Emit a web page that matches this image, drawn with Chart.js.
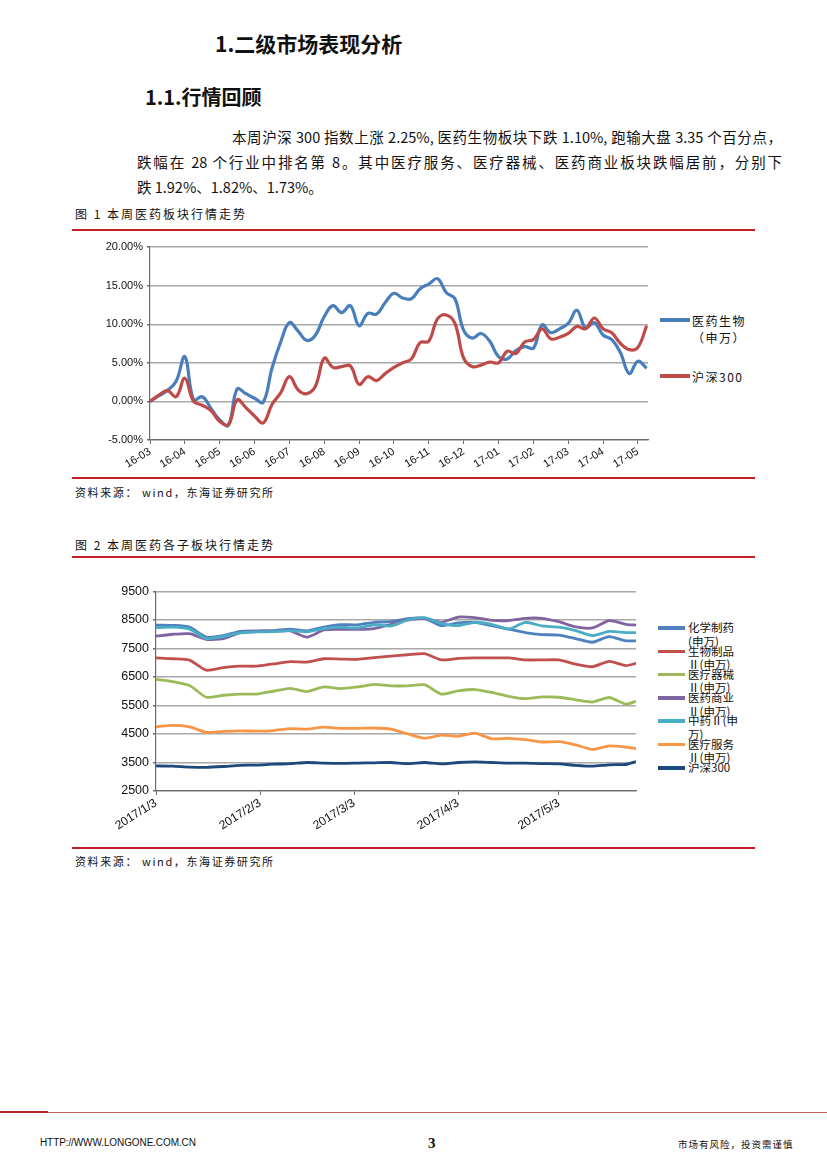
<!DOCTYPE html>
<html>
<head>
<meta charset="utf-8">
<script src="https://cdn.jsdelivr.net/npm/chart.js@4.4.1/dist/chart.umd.min.js"></script>
<style>
  body { margin: 0; background: #fff; }
  #page { position: relative; width: 827px; height: 1170px; overflow: hidden; background: #fff;
          font-family: "Noto Sans CJK SC", sans-serif; color: #111; }
  .abs { position: absolute; white-space: nowrap; }
  .h1 { left: 215px; top: 28px; font-size: 21px; line-height: 30px; font-weight: bold; }
  .h2 { left: 145px; top: 83px; font-size: 20px; line-height: 28px; font-weight: bold; }
  .para { font-size: 14.5px; line-height: 20px; text-align: justify; text-align-last: justify; }
  .caption { left: 75px; font-size: 12px; line-height: 16px; letter-spacing: 2px; }
  .source { left: 75px; font-size: 11px; line-height: 15px; letter-spacing: 1.6px; }
  .rule { position: absolute; left: 72px; width: 683px; height: 2px; background: #c62026; }
  .legend-item { position: absolute; }
  .legend-item .swatch { position: absolute; left: 0; }
  .legend-item .txt { position: absolute; white-space: normal; }
  canvas { position: absolute; }
</style>
</head>
<body>
<div id="page">
  <div class="abs h1">1.二级市场表现分析</div>
  <div class="abs h2">1.1.行情回顾</div>

  <div class="abs para" style="left:232px; top:127px; width:550px;">本周沪深 300 指数上涨 2.25%, 医药生物板块下跌 1.10%, 跑输大盘 3.35 个百分点，</div>
  <div class="abs para" style="left:137px; top:152px; width:645px;">跌幅在 28 个行业中排名第 8。其中医疗服务、医疗器械、医药商业板块跌幅居前，分别下</div>
  <div class="abs" style="left:137px; top:177px; font-size:14.5px; line-height:20px;">跌 1.92%、1.82%、1.73%。</div>

  <div class="abs caption" style="top:206px;">图 1 本周医药板块行情走势</div>
  <div class="rule" style="top:229px;"></div>
  <canvas id="chart1" width="590" height="240" style="left:70px; top:236px;"></canvas>
  <div id="legend1"></div>
  <div class="rule" style="top:477px;"></div>
  <div class="abs source" style="top:485px;">资料来源： wind，东海证券研究所</div>

  <div class="abs caption" style="top:537px;">图 2 本周医药各子板块行情走势</div>
  <div class="rule" style="top:556px;"></div>
  <canvas id="chart2" width="575" height="262" style="left:70px; top:580px;"></canvas>
  <div id="legend2"></div>
  <div class="rule" style="top:847px;"></div>
  <div class="abs source" style="top:854px;">资料来源： wind，东海证券研究所</div>

  <div style="position:absolute; left:0; top:1112px; width:827px; height:1px; background:#c8605c;"></div>
  <div style="position:absolute; left:0; top:1111px; width:48px; height:2px; background:#b22a25;"></div>
  <div class="abs" style="left:40px; top:1136px; font-family:'Liberation Sans',sans-serif; font-size:10px; line-height:14px; letter-spacing:-0.1px;">HTTP://WWW.LONGONE.COM.CN</div>
  <div class="abs" style="left:428px; top:1134px; font-family:'Liberation Serif',serif; font-weight:bold; font-size:15px; line-height:18px;">3</div>
  <div class="abs" style="left:678px; top:1137px; font-size:9.5px; line-height:14px; letter-spacing:1px;">市场有风险，投资需谨慎</div>
</div>

<script>
// ---- 图1: 本周医药板块行情走势 (每 1/4 月一个点, 自 16-03 起) ----
const monthLabels1 = ['16-03', '16-04', '16-05', '16-06', '16-07', '16-08', '16-09', '16-10',
                      '16-11', '16-12', '17-01', '17-02', '17-03', '17-04', '17-05'];
const pharma1 = [0.0, 0.7, 1.4, 2.6, 5.8, 0.2, 0.6, -0.9, -2.4, -3.1, 1.6, 1.0, 0.4, -0.1,
                 4.3, 7.7, 10.2, 9.1, 7.9, 8.6, 11.0, 12.4, 11.5, 12.4, 9.8, 11.4, 11.3, 12.8,
                 14.0, 13.4, 13.3, 14.6, 15.2, 15.9, 14.1, 13.3, 9.2, 8.2, 8.8, 7.8, 5.8, 5.5,
                 6.6, 7.1, 6.9, 9.9, 8.9, 9.4, 10.1, 11.8, 9.5, 10.2, 8.6, 8.0, 6.3, 3.6, 5.2, 4.3];
const hs300_1 = [0.0, 0.8, 1.4, 0.6, 3.0, 0.0, -0.5, -1.2, -2.6, -3.0, 0.2, -0.8, -1.9, -2.8,
                 -0.4, 1.1, 3.2, 1.5, 1.0, 2.0, 5.6, 4.4, 4.5, 4.6, 2.2, 3.2, 2.7, 3.6,
                 4.4, 5.0, 5.5, 7.6, 7.8, 10.7, 11.2, 10.1, 5.6, 4.5, 4.7, 5.1, 5.0, 6.5,
                 6.2, 7.7, 8.0, 9.4, 8.1, 8.3, 8.8, 9.7, 9.4, 10.8, 9.4, 8.9, 7.5, 6.7, 7.0, 9.8];
const names1 = ['医药生物（申万）', '沪深300'];
const colors1 = ['#4a7ebb', '#be4b48'];
const step1 = 0.25; // months between points

// ---- 图2: 本周医药各子板块行情走势 (自 2017/1/3 起的天数) ----
const dayTicks2 = [0, 31, 59, 90, 120];
const dateLabels2 = ['2017/1/3', '2017/2/3', '2017/3/3', '2017/4/3', '2017/5/3'];
const days2 = [0, 5, 10, 15, 20, 25, 30, 35, 40, 45, 50, 55, 60, 65, 70, 75, 80, 85, 90, 95,
               100, 105, 110, 115, 120, 125, 130, 135, 140, 143];
const chem2 = [8320, 8310, 8250, 7900, 7950, 8100, 8120, 8130, 8180, 8120, 8250, 8340, 8330, 8420, 8440,
               8550, 8560, 8300, 8400, 8420, 8300, 8180, 8060, 7990, 7970, 7850, 7720, 7920, 7770, 7770];
const bio2 = [7170, 7140, 7090, 6740, 6830, 6880, 6880, 6960, 7040, 7020, 7140, 7130, 7120, 7180, 7230,
              7280, 7320, 7100, 7150, 7170, 7170, 7170, 7100, 7100, 7100, 6950, 6860, 7050, 6900, 6980];
const device2 = [6420, 6340, 6200, 5790, 5860, 5900, 5900, 6000, 6100, 5990, 6150, 6090, 6150, 6240, 6190,
                 6190, 6230, 5900, 6010, 6060, 5960, 5820, 5740, 5800, 5790, 5700, 5620, 5780, 5550, 5650];
const commerce2 = [7930, 8000, 8020, 7820, 7850, 8050, 8100, 8100, 8120, 7900, 8150, 8170, 8170, 8200, 8350,
                   8500, 8560, 8420, 8600, 8580, 8490, 8480, 8560, 8560, 8440, 8260, 8220, 8480, 8350, 8320];
const tcm2 = [8230, 8250, 8180, 7850, 7920, 8050, 8080, 8090, 8130, 8080, 8200, 8250, 8220, 8330, 8290,
              8500, 8580, 8380, 8300, 8420, 8350, 8180, 8420, 8290, 8250, 8130, 7950, 8100, 8060, 8060];
const service2 = [4750, 4800, 4750, 4560, 4590, 4610, 4600, 4620, 4690, 4670, 4740, 4700, 4700, 4710, 4670,
                  4500, 4350, 4460, 4420, 4530, 4330, 4350, 4300, 4220, 4230, 4120, 3960, 4080, 4040, 3990];
const hs300_2 = [3380, 3370, 3340, 3330, 3360, 3400, 3410, 3440, 3460, 3500, 3480, 3470, 3480, 3490, 3500,
                 3460, 3500, 3450, 3500, 3520, 3500, 3480, 3480, 3460, 3450, 3400, 3370, 3420, 3430, 3530];
const names2 = ['化学制药(申万)', '生物制品Ⅱ(申万)', '医疗器械Ⅱ(申万)', '医药商业Ⅱ(申万)',
                '中药Ⅱ(申万)', '医疗服务Ⅱ(申万)', '沪深300'];
const colors2 = ['#4f81bd', '#c0504d', '#9bbb59', '#8064a2', '#4bacc6', '#f79646', '#1f497d'];

const tickFont = { family: "'Liberation Sans', Arial, sans-serif", size: 11 };
const axisColor = '#6b6b6b';
const gridColor = '#a8a8a8';

// 图1
const series1 = [pharma1, hs300_1];
new Chart(document.getElementById('chart1'), {
  type: 'line',
  data: {
    datasets: series1.map((arr, i) => ({
      label: names1[i],
      data: arr.map((v, k) => ({ x: k * step1, y: v })),
      borderColor: colors1[i],
      borderWidth: 3.2,
      pointRadius: 0,
      tension: 0.4,
      order: series1.length - i
    }))
  },
  options: {
    responsive: false,
    animation: false,
    layout: { padding: { top: 11, right: 12, left: 0, bottom: 0 } },
    plugins: { legend: { display: false }, tooltip: { enabled: false } },
    scales: {
      x: {
        type: 'linear', min: 0, max: 14.29,
        afterFit: s => { s.height = 36; },
        grid: { drawOnChartArea: false, tickLength: 4, color: axisColor },
        border: { color: axisColor, width: 1.2 },
        ticks: {
          stepSize: 1, includeBounds: false, autoSkip: false,
          minRotation: 32, maxRotation: 32, padding: 1,
          font: tickFont, color: '#111',
          callback: v => monthLabels1[v] ?? ''
        }
      },
      y: {
        min: -5, max: 20,
        afterFit: s => { s.width = 80; },
        grid: { color: gridColor, lineWidth: 1.4, tickLength: 3, tickColor: axisColor },
        border: { color: axisColor, width: 1.2 },
        ticks: { stepSize: 5, padding: 4, font: tickFont, color: '#111',
                 callback: v => v.toFixed(2) + '%' }
      }
    }
  }
});

// 图2
const series2 = [chem2, bio2, device2, commerce2, tcm2, service2, hs300_2];
new Chart(document.getElementById('chart2'), {
  type: 'line',
  data: {
    datasets: series2.map((arr, i) => ({
      label: names2[i],
      data: arr.map((v, k) => ({ x: days2[k], y: v })),
      borderColor: colors2[i],
      borderWidth: 2.8,
      pointRadius: 0,
      tension: 0.2,
      order: series2.length - i
    }))
  },
  options: {
    responsive: false,
    animation: false,
    layout: { padding: { top: 10, right: 9, left: 0, bottom: 0 } },
    plugins: { legend: { display: false }, tooltip: { enabled: false } },
    scales: {
      x: {
        type: 'linear', min: 0, max: 143,
        afterBuildTicks: s => { s.ticks = dayTicks2.map(v => ({ value: v })); },
        afterFit: s => { s.height = 51; },
        grid: { drawOnChartArea: false, tickLength: 4, color: axisColor },
        border: { color: axisColor, width: 1.2 },
        ticks: {
          autoSkip: false, minRotation: 32, maxRotation: 32, padding: 1,
          font: { family: tickFont.family, size: 12 }, color: '#111',
          callback: v => dateLabels2[dayTicks2.indexOf(v)] ?? ''
        }
      },
      y: {
        min: 2500, max: 9500,
        afterFit: s => { s.width = 86; },
        grid: { color: gridColor, lineWidth: 1.4, tickLength: 3, tickColor: axisColor },
        border: { color: axisColor, width: 1.2 },
        ticks: { stepSize: 1000, padding: 4, font: { family: tickFont.family, size: 12.5 }, color: '#111',
                 callback: v => String(v) }
      }
    }
  }
});

// legends built from the names / colours above
function buildLegend(holderId, names, colors, opt) {
  const holder = document.getElementById(holderId);
  names.forEach((name, i) => {
    const cy = opt.firstY + i * opt.gap;
    const item = document.createElement('div');
    item.className = 'legend-item';
    item.style.left = opt.left + 'px';
    item.style.top = (cy - opt.lineHeight / 2) + 'px';
    item.innerHTML =
      `<div class="swatch" style="top:${opt.lineHeight / 2 - opt.swatchH / 2}px;width:${opt.swatchW}px;height:${opt.swatchH}px;background:${colors[i]}"></div>` +
      `<div class="txt" style="left:${opt.swatchW + opt.textGap}px;width:${opt.textWidth}px;font-size:${opt.fontSize}px;line-height:${opt.lineHeight}px;letter-spacing:${opt.spacing}px">${name}</div>`;
    holder.appendChild(item);
  });
}
document.getElementById('legend1').style.cssText = 'position:absolute;left:0;top:0;';
document.getElementById('legend2').style.cssText = 'position:absolute;left:0;top:0;';
buildLegend('legend1', names1, colors1, {
  left: 660, firstY: 320, gap: 56, lineHeight: 17, swatchW: 30, swatchH: 3.5,
  textGap: 2, textWidth: 62, fontSize: 12, spacing: 1.5
});
buildLegend('legend2', names2, colors2, {
  left: 658, firstY: 628, gap: 23.3, lineHeight: 13.5, swatchW: 27, swatchH: 3.5,
  textGap: 3, textWidth: 53, fontSize: 11.5, spacing: 0
});
</script>
</body>
</html>
